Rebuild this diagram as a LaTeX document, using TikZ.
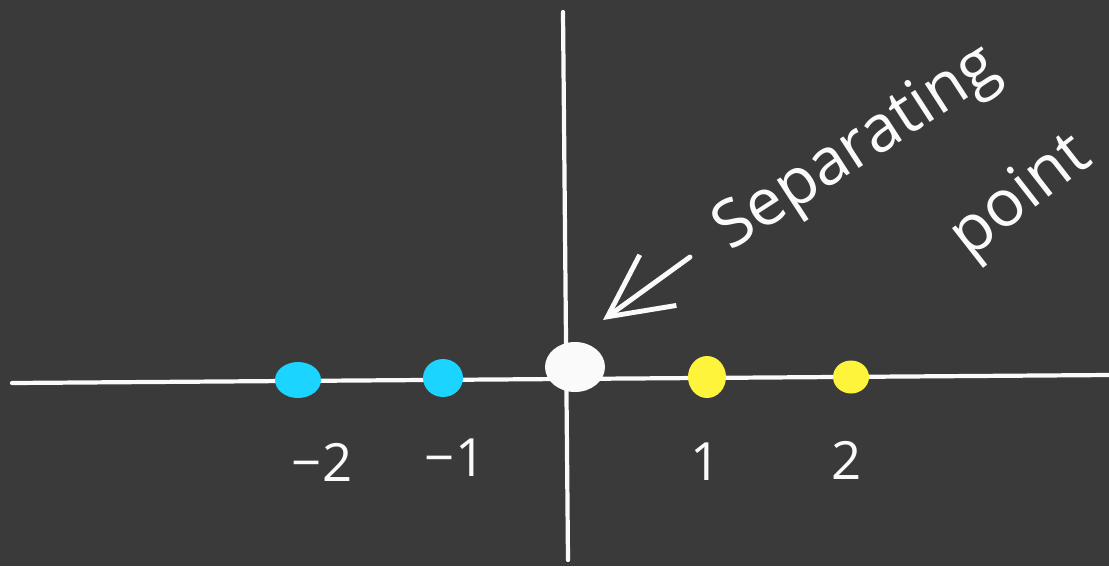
\documentclass[tikz,border=0pt]{standalone}
\usepackage{fontspec}
\setmainfont{Open Sans}
\usetikzlibrary{shapes.geometric,arrows.meta}
\definecolor{board}{RGB}{58,58,58}
\definecolor{chalk}{RGB}{250,250,250}
\definecolor{cyandot}{RGB}{27,212,255}
\definecolor{yellowdot}{RGB}{255,244,60}
\tikzset{
  axis/.style={draw=chalk, line width=2.4pt, line cap=round},
  dot/.style={ellipse, inner sep=0pt, draw=none},
  numlabel/.style={text=chalk, font=\fontsize{30}{36}\selectfont},
  handtext/.style={text=chalk, inner sep=0pt, font=\fontsize{37}{44}\selectfont},
}
\begin{document}
\begin{tikzpicture}[x=0.02cm,y=-0.02cm]
\fill[board] (0,0) rectangle (1109,566);
\useasboundingbox (0,0) rectangle (1109,566);
% axes
\coordinate (hl) at (12,383);
\coordinate (hr) at (1109,375);
\coordinate (vt) at (563,12);
\coordinate (vb) at (568,560);
\draw[axis] (hl) -- (hr);
\draw[axis] (vt) -- (vb);
% dots
\node[dot, fill=cyandot, minimum width=46*0.02cm, minimum height=36*0.02cm] (m2) at (298,380) {};
\node[dot, fill=cyandot, minimum width=40*0.02cm, minimum height=38*0.02cm] (m1) at (443,378) {};
\node[dot, fill=chalk, minimum width=60*0.02cm, minimum height=50*0.02cm] (zero) at (575,367) {};
\node[dot, fill=yellowdot, minimum width=38*0.02cm, minimum height=42*0.02cm] (p1) at (707,377) {};
\node[dot, fill=yellowdot, minimum width=36*0.02cm, minimum height=33*0.02cm] (p2) at (851,377) {};
% labels
\node[numlabel] (lm2) at (322,462) {−2};
\node[numlabel] (lm1) at (455,458) {−1};
\node[numlabel] (lp1) at (706,462) {1};
\node[numlabel] (lp2) at (847,460) {2};
% arrow
\coordinate (atail) at (690,257);
\coordinate (ahead) at (603,320);
\draw[chalk, line width=2.8pt, line cap=round, -{Straight Barb[length=1.25cm, width=1.25cm, line width=2.8pt]}] (atail) -- (ahead);
% text
\node[handtext, rotate=33] (sep) at (858,150) {Separating};
\node[handtext, rotate=38] (pt) at (1022,198) {point};
\end{tikzpicture}
\end{document}
